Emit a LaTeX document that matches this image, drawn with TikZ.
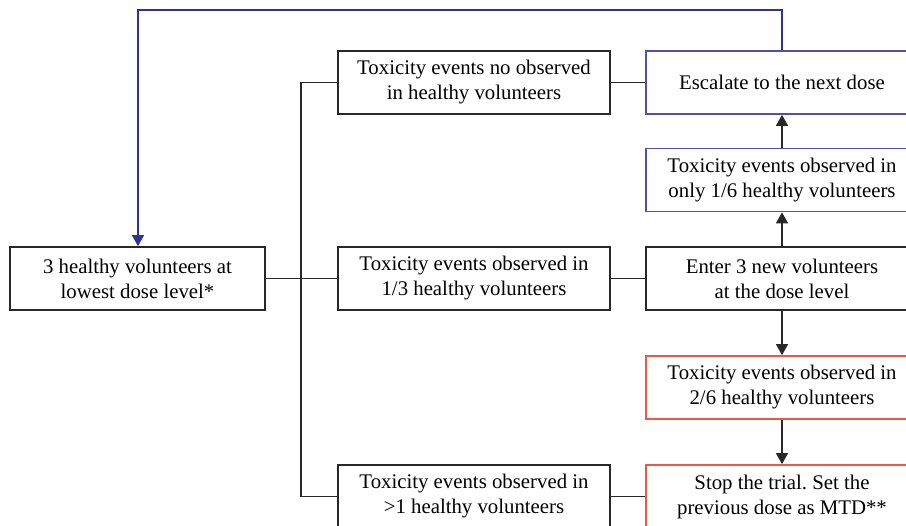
\documentclass[tikz,border=0pt]{standalone}
\usepackage{fontspec}
\setmainfont{Liberation Serif}
\usetikzlibrary{arrows.meta}
\definecolor{bblue}{RGB}{50,50,150}
\definecolor{rred}{RGB}{232,90,70}
\definecolor{bk}{RGB}{40,40,40}
\frenchspacing
\begin{document}
\begin{tikzpicture}[x=1pt,y=-1pt,
  box/.style={draw=bk,line width=1.7pt,minimum height=63pt,inner sep=0pt,
    align=center,font=\fontsize{20.8}{25}\selectfont,text=black},
  bluebox/.style={box,draw=bblue!85},
  redbox/.style={box,draw=rred},
  conn/.style={draw=bk,line width=1.4pt},
  arr/.style={conn,-{Triangle[length=11pt,width=12pt]}},
  barr/.style={draw=bblue,line width=1.4pt,-{Triangle[length=11pt,width=12pt]}}]
\useasboundingbox (0,0) rectangle (906,526);
\clip (0,0) rectangle (906,526);
\node[box,minimum width=255pt] (start) at (137.5,278.5) {3 healthy volunteers at\\lowest dose level*};
\node[box,minimum width=272pt] (none) at (474,82.5) {Toxicity events no observed\\in healthy volunteers};
\node[box,minimum width=272pt] (one3) at (474,278.5) {Toxicity events observed in\\1/3 healthy volunteers};
\node[box,minimum width=272pt] (gt1) at (474,496.5) {Toxicity events observed in\\>1 healthy volunteers};
\node[bluebox,minimum width=272pt] (esc) at (782,82.5) {Escalate to the next dose};
\node[bluebox,minimum width=272pt] (one6) at (782,180) {Toxicity events observed in\\only 1/6 healthy volunteers};
\node[box,minimum width=272pt] (enter) at (782,278.5) {Enter 3 new volunteers\\at the dose level};
\node[redbox,minimum width=272pt] (two6) at (782,387.5) {Toxicity events observed in\\2/6 healthy volunteers};
\node[redbox,minimum width=272pt] (stop) at (782,496.5) {Stop the trial. Set the\\previous dose as MTD**};
\coordinate (bus) at (301,278.5);
\draw[conn] (start.east) -- (one3.west);
\draw[conn] (none.west) -| (bus) |- (gt1.west);
\draw[conn] (none.east) -- (esc.west);
\draw[conn] (one3.east) -- (enter.west);
\draw[conn] (gt1.east) -- (stop.west);
\draw[arr] (one6.north) -- (esc.south);
\draw[arr] (enter.north) -- (one6.south);
\draw[arr] (enter.south) -- (two6.north);
\draw[arr] (two6.south) -- (stop.north);
\coordinate (loopR) at (782,10);
\coordinate (loopL) at (138,10);
\draw[barr] (esc.north) -- (loopR) -- (loopL) -- (loopL |- start.north);
\end{tikzpicture}
\end{document}
